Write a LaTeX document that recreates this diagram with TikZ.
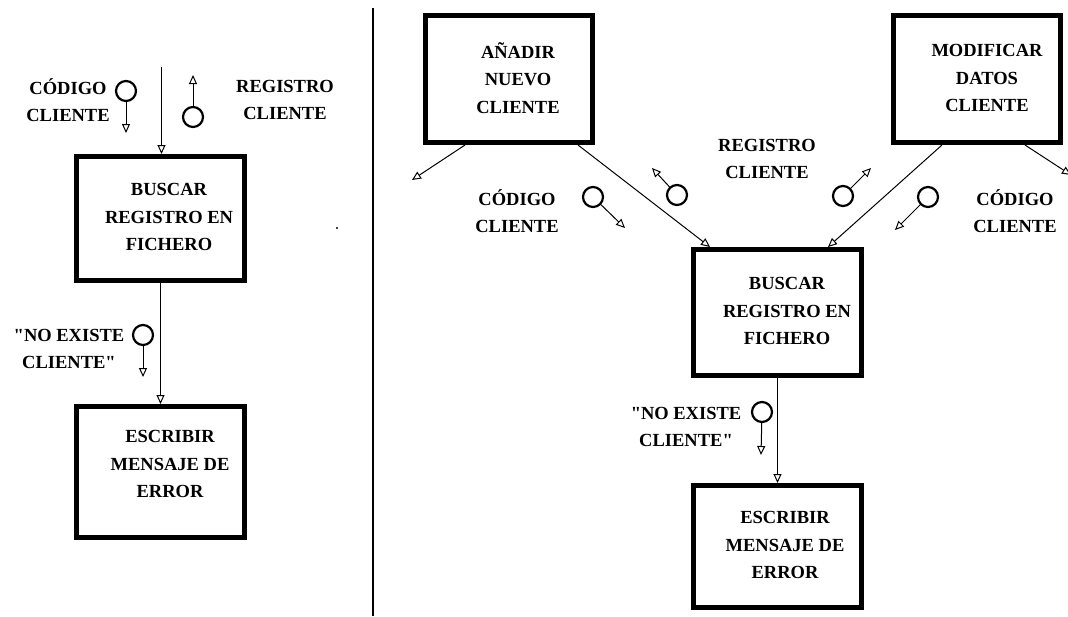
\documentclass[tikz,border=0pt]{standalone}
\usepackage{fontspec}
\setmainfont{Liberation Serif}[Ligatures=TeXOff]
\usetikzlibrary{arrows.meta}

\tikzset{
  caja/.style={draw, line width=5pt, inner sep=0pt},
  texto/.style={align=center, font=\fontsize{18.5}{27.5}\selectfont\bfseries},
  acople/.style={draw, circle, line width=2.2pt, minimum size=20pt, inner sep=0pt},
  flecha/.style={-{Triangle[open, length=9pt, width=8pt]}, line width=1pt},
}

\begin{document}
\begin{tikzpicture}[x=1pt, y=-1pt]

\useasboundingbox (0,0) rectangle (1068,616);

% parte izquierda
\node[caja, minimum width=168pt, minimum height=124pt] (lbus) at (160.5,218.5) {};
\node[caja, minimum width=168pt, minimum height=131pt] (lesc) at (160.5,472) {};
\node[texto] (lbust) at (169,217) {BUSCAR\\REGISTRO EN\\FICHERO};
\node[texto] (lesct) at (170,464) {ESCRIBIR\\MENSAJE DE\\ERROR};

\coordinate (arriba) at (161.5,67);
\draw[flecha] (arriba) -- (arriba |- lbus.north);
\draw[flecha] (lbus.south) -- (lesc.north);

\node[acople] (cc1) at (126,91) {};
\coordinate (cc1f) at (126,133);
\draw[flecha] (cc1) -- (cc1f);
\node[texto] (cc1t) at (68,100) {CÓDIGO\\CLIENTE};

\node[acople] (rc1) at (193,117) {};
\coordinate (rc1f) at (193,75);
\draw[flecha] (rc1) -- (rc1f);
\node[texto] (rc1t) at (285,100) {REGISTRO\\CLIENTE};

\node[acople] (ne1) at (143,335) {};
\coordinate (ne1f) at (143,377);
\draw[flecha] (ne1) -- (ne1f);
\node[texto] (ne1t) at (69,349) {"NO EXISTE\\CLIENTE"};

\fill (337,228) circle (1.2pt);

% separador
\draw[line width=2.5pt] (373,8) -- (373,616);

% parte derecha
\node[caja, minimum width=167pt, minimum height=127pt] (ana) at (509,79) {};
\node[caja, minimum width=167pt, minimum height=127pt] (mod) at (977,79) {};
\node[caja, minimum width=168pt, minimum height=126pt] (rbus) at (777.5,312.5) {};
\node[caja, minimum width=168pt, minimum height=122pt] (resc) at (777.5,546.5) {};
\node[texto] (anat) at (518,78) {AÑADIR\\NUEVO\\CLIENTE};
\node[texto] (modt) at (987,78) {MODIFICAR\\DATOS\\CLIENTE};
\node[texto] (rbust) at (787,311) {BUSCAR\\REGISTRO EN\\FICHERO};
\node[texto] (resct) at (785,545) {ESCRIBIR\\MENSAJE DE\\ERROR};

\coordinate (anaizq) at (412,180);
\coordinate (moddch) at (1071,175);
\draw[flecha] ([xshift=-44pt]ana.south) -- (anaizq);
\draw[flecha] ([xshift=69pt]ana.south) -- ([xshift=-67.5pt]rbus.north);
\draw[flecha] ([xshift=-35pt]mod.south) -- ([xshift=50.5pt]rbus.north);
\draw[flecha] ([xshift=48pt]mod.south) -- (moddch);
\draw[flecha] (rbus.south) -- (resc.north);

\node[acople] (cc2) at (593,197) {};
\coordinate (cc2f) at (625,228);
\draw[flecha] (cc2) -- (cc2f);
\node[texto] (cc2t) at (517,211) {CÓDIGO\\CLIENTE};

\node[acople] (rc2) at (677,195) {};
\coordinate (rc2f) at (652,168);
\draw[flecha] (rc2) -- (rc2f);
\node[texto] (rc2t) at (767,159) {REGISTRO\\CLIENTE};

\node[acople] (rc3) at (843,196) {};
\coordinate (rc3f) at (871,168);
\draw[flecha] (rc3) -- (rc3f);

\node[acople] (cc3) at (928,197) {};
\coordinate (cc3f) at (895,230);
\draw[flecha] (cc3) -- (cc3f);
\node[texto] (cc3t) at (1015,211) {CÓDIGO\\CLIENTE};

\node[acople] (ne2) at (762,412) {};
\coordinate (ne2f) at (761,455);
\draw[flecha] (ne2) -- (ne2f);
\node[texto] (ne2t) at (686,427) {"NO EXISTE\\CLIENTE"};

\end{tikzpicture}
\end{document}
